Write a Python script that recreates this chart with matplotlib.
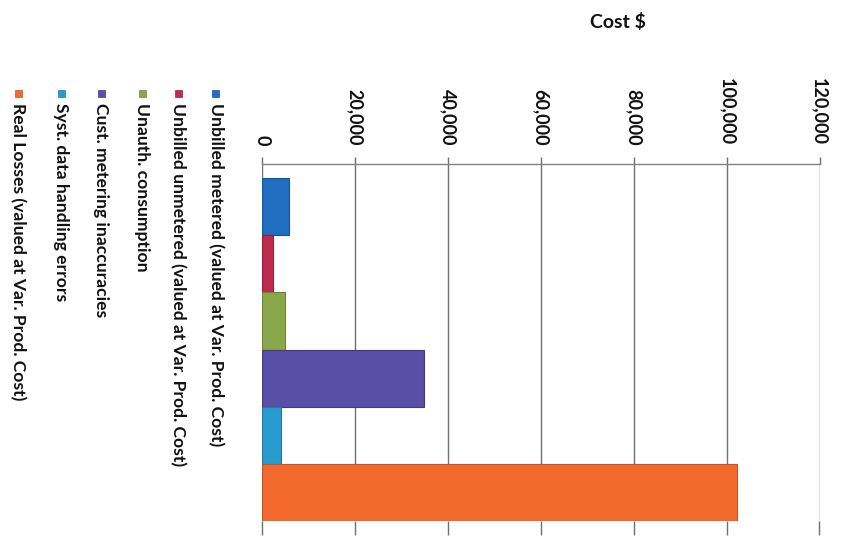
import matplotlib
matplotlib.use("Agg")
import matplotlib.pyplot as plt
from matplotlib.patches import Rectangle

# Water loss cost components ($)
categories = [
    "Unbilled metered (valued at Var. Prod. Cost)",
    "Unbilled unmetered (valued at Var. Prod. Cost)",
    "Unauth. consumption",
    "Cust. metering inaccuracies",
    "Syst. data handling errors",
    "Real Losses (valued at Var. Prod. Cost)",
]
costs = [5800, 2400, 4900, 34800, 4000, 102300]
colors = ["#1f6ec0", "#c02a4c", "#8aa74c", "#5a4fa6", "#2a9bcf", "#f36a2f"]
edge_colors = ["#17539a", "#96203b", "#6c843a", "#433a86", "#1f7aa6", "#c9521f"]
tick_values = [0, 20000, 40000, 60000, 80000, 100000, 120000]
tick_labels = ["0", "20,000", "40,000", "60,000", "80,000", "100,000", "120,000"]
axis_title = "Cost $"

W, H = 841, 550
plt.rcParams["font.family"] = ["Lato", "DejaVu Sans"]
fig = plt.figure(figsize=(W / 100, H / 100), dpi=100)
fig.patch.set_facecolor("white")

x0, x1, ytop, ybot = 262, 819.5, 164, 521
ax = fig.add_axes([x0 / W, 1 - ybot / H, (x1 - x0) / W, (ybot - ytop) / H])

positions = list(range(len(categories)))
ax.barh(positions, costs, height=1.0, color=colors, edgecolor=edge_colors,
        linewidth=0.8, zorder=3)

ax.set_xlim(0, 120000)
ax.set_ylim(5.5, -0.745)
ax.set_yticks([])
ax.set_xticks(tick_values)
ax.set_xticklabels(tick_labels, rotation=-90, fontweight="bold", fontsize=13,
                   color="#111111", va="bottom", ha="center")
ax.tick_params(axis="x", top=True, bottom=False, labeltop=True, labelbottom=False,
               direction="out", length=5, width=1, color="#707070", pad=8.5)
ax.grid(axis="x", color="#707070", linewidth=1, zorder=1)

for side in ["left", "right", "bottom"]:
    ax.spines[side].set_visible(False)
ax.spines["top"].set_color("#808080")
ax.spines["top"].set_linewidth(1)

# outward tick marks below the plot area
sec = ax.secondary_xaxis("bottom")
sec.set_xticks(tick_values)
sec.tick_params(axis="x", length=10, width=1, color="#707070", labelbottom=False,
                direction="out")
sec.spines["bottom"].set_visible(False)

fig.text(618 / W, 1 - 22 / H, axis_title, ha="center", va="center",
         fontsize=14, fontweight="bold", color="#111111")

# legend drawn as rotated columns
legend_x = [216, 178, 142, 101, 61, 18]
for label, col, ec, lx in zip(categories, colors, edge_colors, legend_x):
    fig.patches.append(Rectangle(((lx - 3.5) / W, 1 - 97 / H), 7 / W, 7 / H,
                                 transform=fig.transFigure, facecolor=col,
                                 edgecolor=ec, linewidth=0.5))
    fig.text(lx / W, 1 - 103 / H, label, rotation=-90, ha="center", va="top",
             fontsize=12.6, fontweight="bold", color="#111111")

fig.savefig("out.png", dpi=100, facecolor="white")
